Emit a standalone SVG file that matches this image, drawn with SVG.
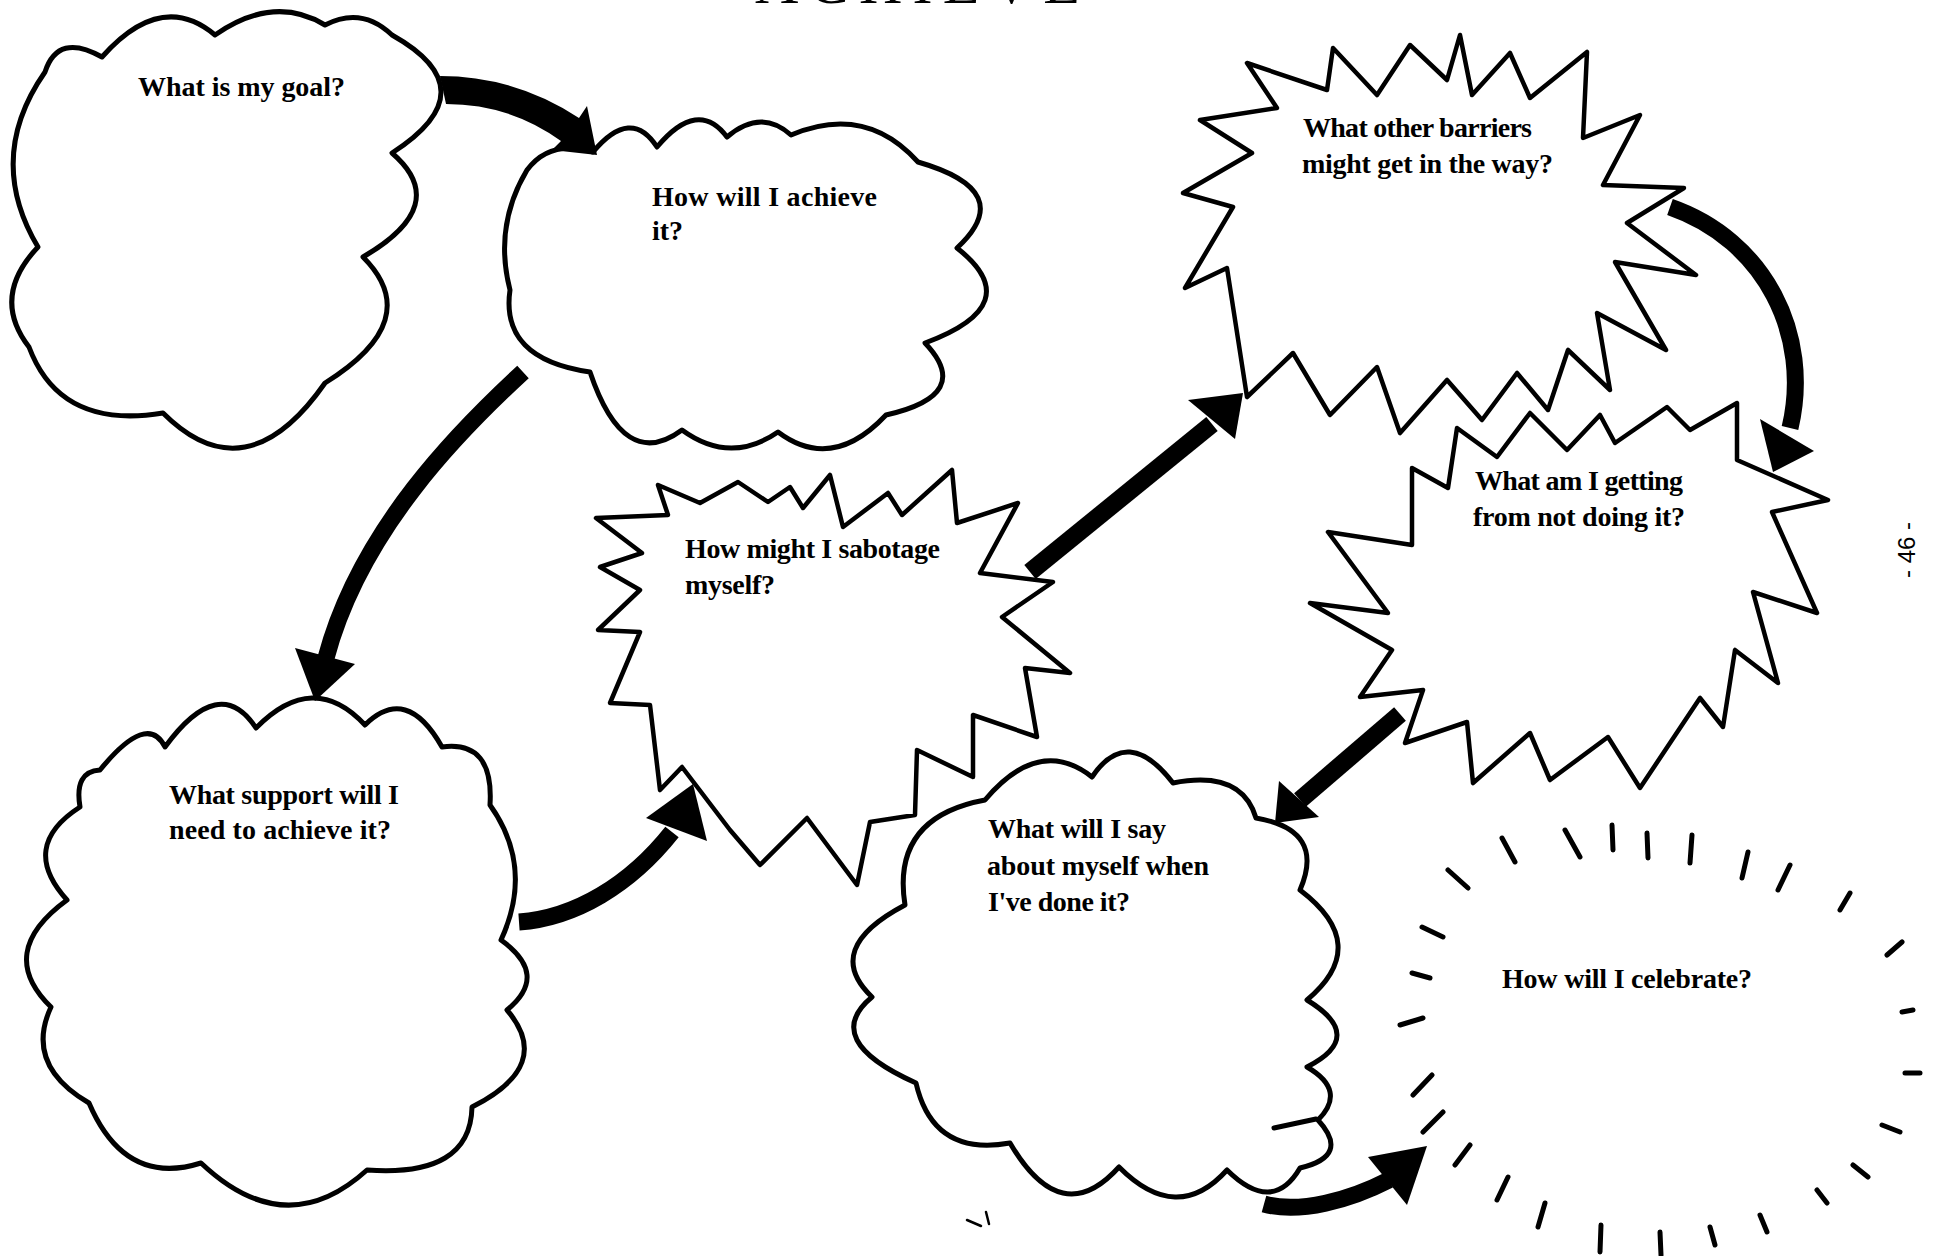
<svg xmlns="http://www.w3.org/2000/svg" width="1936" height="1256" viewBox="0 0 1936 1256">
<style>
.shape{fill:#fff;stroke:#000;stroke-width:5;stroke-linejoin:round}
.star{fill:#fff;stroke:#000;stroke-width:4.5;stroke-linejoin:round}
.band{fill:none;stroke:#000;stroke-width:17;stroke-linecap:butt}
.head{fill:#000}
.label{font-family:"Liberation Serif","Times New Roman",serif;font-weight:bold;font-size:28px;fill:#000}
.dash{fill:none;stroke:#000;stroke-width:5;stroke-linecap:round}
.thin{fill:none;stroke:#000;stroke-width:2.5;stroke-linecap:round}
</style>
<rect width="1936" height="1256" fill="#fff"/>
<text x="755" y="3" font-family="Liberation Serif, serif" font-size="60" textLength="325" fill="#000">ACHIEVE</text>
<text transform="translate(1915,550) rotate(-90)" text-anchor="middle" font-family="Liberation Sans, Arial, sans-serif" font-size="24" fill="#000">- 46 -</text>

<g id="node-goal">
<path class="shape" d="M45,72 Q58,32 102,57 Q161.5,-10 215,35 Q274,-6 325,25 Q361.5,6 392,35 Q490,90 392,153 Q452.5,205 363,257 Q426,320 325,383 Q246,496 163,413 Q60,430 29,347 Q-9.5,297 38,247 Q-15,158 45,72 Z"/>
<text class="label" x="138" y="96" textLength="207">What is my goal?</text>
</g>

<g id="node-achieve">
<path class="shape" d="M527,170 Q550,139 593,152 Q631,106.5 657,147 Q698,98 727,137 Q761,108 791,135 Q865.5,103.5 918,162 Q1018.5,191 957,248 Q1029,304.5 925,343 Q974.5,395 886,415 Q832,472.5 778,432 Q730,465 682,430 Q624,473 590,372 Q500,359 510,290 Q493.5,226 527,170 Z"/>
<text class="label" x="652" y="206" textLength="225">How will I achieve</text>
<text class="label" x="652" y="240">it?</text>
</g>

<g id="node-support">
<path class="shape" d="M100,770 Q147.5,711.5 165,747 Q219.5,672.5 256,728 Q313.5,669.5 365,725 Q406.5,684 442,747 Q494,740 490,805 Q534.5,867.5 501,940 Q550,975 507,1010 Q554.5,1065.5 472,1107 Q470.5,1177.5 367,1170 Q286,1243.5 201,1163 Q125,1187 89,1103 Q24,1065 51,1007 Q-5,952.5 67,900 Q18.5,846.5 80,807 Q74,771.5 100,770 Z"/>
<text class="label" x="169" y="804" textLength="230">What support will I</text>
<text class="label" x="169" y="839" textLength="222">need to achieve it?</text>
</g>

<g id="node-sabotage">
<path class="star" d="M658,485 L700,503 L738,482 L768,502 L790,487 L803,508 L830,475 L843,527 L888,493 L902,515 L952,470 L957,523 L1018,503 L980,573 L1053,582 L1002,617 L1070,673 L1025,668 L1037,737 L973,715 L973,777 L917,750 L915,815 L870,822 L857,885 L807,818 L760,865 L730,830 L682,767 L660,790 L650,705 L610,703 L640,632 L598,630 L640,590 L600,567 L642,553 L596,518 L668,515 Z"/>
<text class="label" x="685" y="558" textLength="255">How might I sabotage</text>
<text class="label" x="685" y="594" textLength="90">myself?</text>
</g>

<g id="node-barriers">
<path class="star" d="M1247,63 L1327,90 L1333,48 L1377,95 L1410,45 L1447,80 L1460,35 L1472,95 L1510,53 L1530,98 L1587,52 L1583,138 L1640,115 L1603,185 L1684,188 L1627,223 L1696,275 L1615,262 L1666,350 L1597,313 L1610,390 L1568,350 L1548,410 L1517,373 L1482,420 L1447,380 L1400,433 L1377,367 L1330,415 L1293,353 L1247,397 L1227,268 L1185,288 L1233,207 L1183,193 L1252,153 L1200,120 L1277,108 Z"/>
<text class="label" x="1303" y="137" textLength="229">What other barriers</text>
<text class="label" x="1302" y="173" textLength="251">might get in the way?</text>
</g>

<g id="node-getting">
<path class="star" d="M1412,468 L1448,488 L1457,428 L1497,457 L1530,413 L1567,450 L1600,415 L1615,443 L1667,407 L1690,430 L1737,403 L1737,460 L1828,500 L1772,512 L1817,613 L1753,592 L1778,683 L1735,650 L1723,727 L1700,698 L1640,788 L1608,737 L1550,780 L1530,733 L1473,783 L1467,722 L1405,743 L1423,690 L1360,697 L1392,650 L1310,603 L1388,613 L1328,532 L1412,545 Z"/>
<text class="label" x="1475" y="490" textLength="208">What am I getting</text>
<text class="label" x="1473" y="526" textLength="212">from not doing it?</text>
</g>

<g id="node-say">
<path class="shape" d="M905,905 Q891,817.5 985,800 Q1039.5,735.5 1092,777 Q1127.5,724 1173,783 Q1241.5,769.5 1256,818 Q1326,830 1300,890 Q1372.5,945 1307,1000 Q1367,1036.5 1307,1067 Q1347.5,1090.5 1318,1120 Q1351,1156 1300,1168 Q1272.5,1215 1227,1170 Q1177,1225.5 1119,1167 Q1061.5,1231 1010,1143 Q933,1157 916,1083 Q820,1040 872,997 Q821.5,949 905,905 Z"/>
<path class="dash" d="M1274,1128 L1316,1119"/>
<text class="label" x="988" y="838" textLength="178">What will I say</text>
<text class="label" x="987" y="875" textLength="222">about myself when</text>
<text class="label" x="988" y="911" textLength="142">I've done it?</text>
</g>

<g id="node-celebrate">
<path class="dash" d="M1502,838L1515,862 M1565,830L1580,857 M1612,825L1613,850 M1647,833L1648,858 M1692,835L1690,863 M1748,852L1742,878 M1790,865L1778,890 M1850,893L1840,910 M1902,942L1887,955 M1913,1010L1902,1012 M1920,1073L1905,1073 M1900,1132L1882,1125 M1868,1177L1853,1165 M1827,1203L1817,1190 M1767,1232L1760,1215 M1715,1245L1710,1227 M1661,1255L1660,1232 M1600,1252L1601,1225 M1538,1227L1545,1203 M1497,1200L1508,1177 M1455,1165L1470,1145 M1423,1132L1443,1112 M1413,1095L1432,1075 M1400,1025L1423,1018 M1412,973L1430,978 M1422,927L1443,937 M1448,870L1468,888"/>
<text class="label" x="1502" y="988" textLength="250">How will I celebrate?</text>
</g>

<path class="thin" d="M967,1220 L981,1226 M986,1212 L989,1224"/>

<g id="connectors">
<path class="head" d="M440,76 Q515,76 579,118 L587,106 L597,155 L552,150 L561,141 Q510,104 446,104 Z"/>
<path class="band" d="M523,372 C460,430 360,530 326,658"/>
<polygon class="head" points="295,648 355,664 315,701"/>
<path class="band" d="M519,922 C575,918 630,885 672,832"/>
<polygon class="head" points="646,818 707,841 693,784"/>
<path class="band" style="stroke-width:18" d="M1030,572 L1212,424"/>
<polygon class="head" points="1188,400 1235,439 1243,393"/>
<path class="band" d="M1670,207 C1765,240 1812,335 1790,428"/>
<polygon class="head" points="1760,419 1814,451 1773,472"/>
<path class="band" style="stroke-width:18" d="M1400,714 L1300,800"/>
<polygon class="head" points="1279,781 1319,817 1275,823"/>
<path class="band" d="M1264,1204 C1300,1214 1350,1200 1389,1180"/>
<polygon class="head" points="1368,1157 1407,1205 1427,1146"/>
</g>
</svg>
